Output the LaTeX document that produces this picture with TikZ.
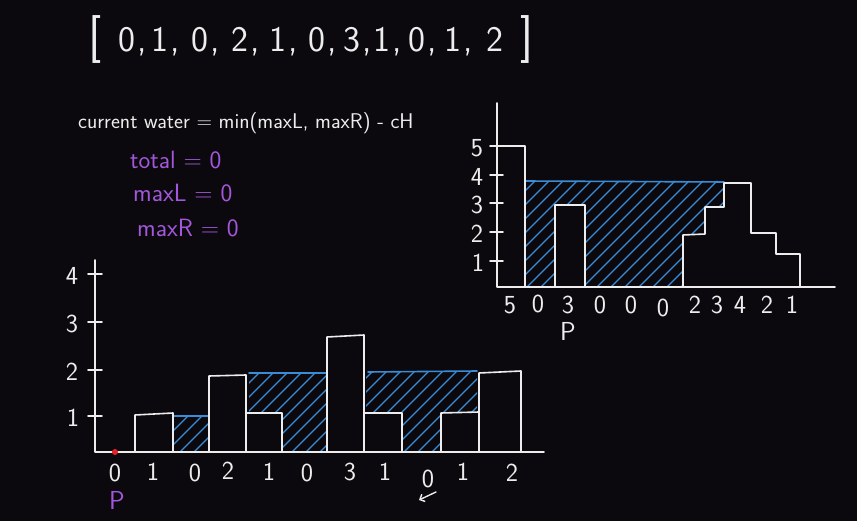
\documentclass[tikz,border=0pt]{standalone}
\usetikzlibrary{arrows.meta,positioning}
\usepackage{xcolor}
\definecolor{Board}{HTML}{0B090D}
\definecolor{Chalk}{HTML}{EDEDED}
\definecolor{Water}{HTML}{3A8CD6}
\definecolor{Marker}{HTML}{A257DC}
\definecolor{Pointer}{HTML}{E8202A}
\begin{document}
\begin{tikzpicture}[x=1pt,y=-1pt,
  chalk/.style={Chalk,line width=1.6pt,line join=round,line cap=round},
  wline/.style={Water,line width=1.6pt,line cap=round},
  hatch/.style={Water,line width=1.2pt,line cap=round},
  arrnum/.style={font=\sffamily\fontsize{36}{36}\selectfont,text=Chalk,inner sep=0pt,anchor=base west},
  brack/.style={font=\sffamily\fontsize{48}{48}\selectfont,text=Chalk,inner sep=0pt},
  numlbl/.style={font=\sffamily\fontsize{26}{26}\selectfont,text=Chalk,inner sep=0pt},
  varlbl/.style={font=\sffamily\fontsize{25}{25}\selectfont,text=Marker,inner sep=0pt,anchor=west}]
\useasboundingbox (0,0) rectangle (857,521);
\fill[Board] (0,0) rectangle (857,521);
% the input array
\node[brack] (open) at (95,40) {[};
\node[brack] (close) at (527,40) {]};
\foreach \d/\x [count=\k] in {0/118,1/151,0/191,2/231,1/269,0/308,3/343,1/373,0/408,1/444}
  \node[arrnum] (a\k) at (\x,52) {\d\hspace{2pt},};
\node[arrnum] (a11) at (486,52) {2};
% formula and running values
\node[font=\sffamily\fontsize{21.3}{21.3}\selectfont,text=Chalk,inner sep=0pt,anchor=west] (formula) at (78,123) {current water = min(maxL, maxR) - cH};
\node[varlbl] (total) at (130,160) {total = 0};
\node[varlbl] (maxL) at (133,193) {maxL = 0};
\node[varlbl] (maxR) at (137,228) {maxR = 0};
% water hatching, both charts
\begin{scope}
\clip (174,416) rectangle (209,452)
  (249,373) -- (326,373) -- (326,452) -- (282,452) -- (282,413) -- (249,413) -- cycle
  (366,372) -- (477,372) -- (477,413) -- (441,413) -- (441,452) -- (402,452) -- (402,413) -- (366,413) -- cycle
  (525,181) -- (724,181) -- (724,207) -- (705,207) -- (705,235) -- (683,235) -- (683,287) -- (585,287) -- (585,205) -- (555,205) -- (555,287) -- (525,287) -- cycle;
\foreach \s in {-300,-286,...,860}
  \draw[hatch] (\s,470) -- ++(330,-330);
\end{scope}
\draw[wline] (174,416) -- (209,416);
\draw[wline] (249,373) -- (326,373);
\draw[wline] (368,372) -- (477,371);
\draw[wline] (525,181) -- (724,182);
% left chart
\draw[chalk] (95,260) -- (95,452) -- (544,452);
\draw[chalk] (88,274) -- (102,274);
\draw[chalk] (88,322) -- (102,322);
\draw[chalk] (88,370) -- (102,370);
\draw[chalk] (88,416) -- (102,416);
\node[numlbl] (ly4) at (72,276) {4};
\node[numlbl] (ly3) at (72,324) {3};
\node[numlbl] (ly2) at (72,372) {2};
\node[numlbl] (ly1) at (73,418) {1};
\draw[chalk] (135,452) -- (135,415) -- (173,413) -- (173,452);
\draw[chalk] (209,452) -- (209,376) -- (246,375) -- (246,452);
\draw[chalk] (246,413) -- (282,413) -- (282,452);
\draw[chalk] (327,452) -- (327,337) -- (364,335) -- (364,452);
\draw[chalk] (364,413) -- (402,413) -- (402,452);
\draw[chalk] (441,452) -- (441,413) -- (479,412);
\draw[chalk] (479,452) -- (479,373) -- (521,371) -- (521,452);
\foreach \d/\x/\y [count=\k] in {0/115/473,1/153/472,0/195/473,2/228/471,1/269/472,0/307/473,3/350/472,1/385/472,0/428/479,1/463/472,2/512/473}
  \node[numlbl] (h\k) at (\x,\y) {\d};
\node[numlbl,text=Marker] (leftP) at (117,500) {P};
\node[circle,fill=Pointer,minimum size=6pt,inner sep=0pt] (laser) at (115,452) {};
\coordinate (rTail) at (436,492);
\coordinate (rTip) at (419,500);
\draw[chalk,line width=1.4pt,-{Straight Barb[length=4pt]}] (rTail) -- (rTip);
% right chart
\draw[chalk] (497,103) -- (497,287) -- (835,287);
\draw[chalk] (490,146) -- (503,146);
\draw[chalk] (490,175) -- (503,175);
\draw[chalk] (490,203) -- (503,203);
\draw[chalk] (490,232) -- (503,232);
\draw[chalk] (490,261) -- (503,261);
\node[numlbl] (ry5) at (477,148) {5};
\node[numlbl] (ry4) at (477,177) {4};
\node[numlbl] (ry3) at (477,205) {3};
\node[numlbl] (ry2) at (477,234) {2};
\node[numlbl] (ry1) at (478,263) {1};
\draw[chalk] (497,146) -- (525,146) -- (525,287);
\draw[chalk] (555,287) -- (555,205) -- (585,205) -- (585,287);
\draw[chalk] (683,287) -- (683,235) -- (705,234) -- (705,207) -- (724,207) -- (724,183) -- (751,183) -- (751,233) -- (776,233) -- (776,254) -- (800,254) -- (800,287);
\foreach \d/\x/\y [count=\k] in {5/510/305,0/538/304,3/568/305,0/600/305,0/631/305,0/663/308,2/695/305,3/717/305,4/740/305,2/767/305,1/792/305}
  \node[numlbl] (g\k) at (\x,\y) {\d};
\node[numlbl] (rightP) at (568,331) {P};
\end{tikzpicture}
\end{document}
